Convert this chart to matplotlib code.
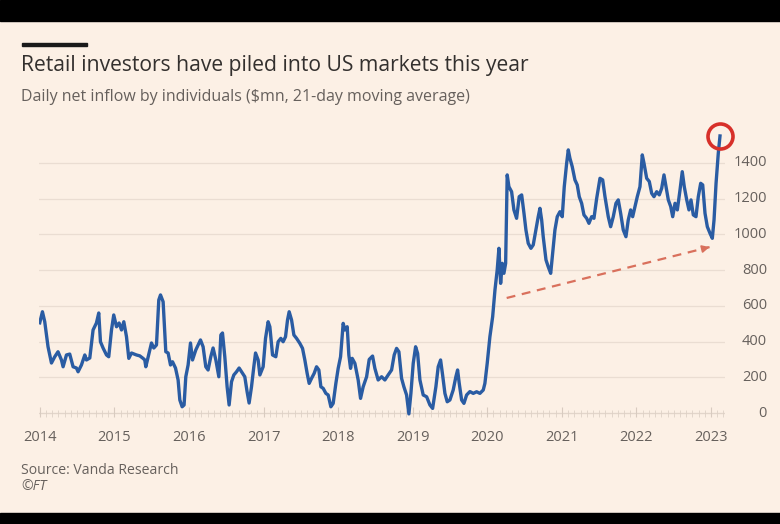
import matplotlib
matplotlib.use("Agg")
import matplotlib.pyplot as plt
from matplotlib.patches import Rectangle

# ---- data (decimal year, $mn daily net inflow, 21-day MA) ----
years = [
    2014.000, 2014.036, 2014.067, 2014.111, 2014.157, 2014.201, 2014.245, 2014.291, 2014.313, 2014.358,
    2014.402, 2014.447, 2014.492, 2014.514, 2014.559, 2014.604, 2014.626, 2014.671, 2014.715, 2014.760,
    2014.791, 2014.814, 2014.849, 2014.895, 2014.925, 2014.962, 2014.992, 2015.029, 2015.064, 2015.096,
    2015.127, 2015.163, 2015.194, 2015.230, 2015.297, 2015.341, 2015.385, 2015.408, 2015.422, 2015.466,
    2015.498, 2015.529, 2015.565, 2015.596, 2015.619, 2015.654, 2015.690, 2015.721, 2015.753, 2015.780,
    2015.820, 2015.855, 2015.878, 2015.909, 2015.935, 2015.958, 2015.989, 2016.021, 2016.048, 2016.092,
    2016.123, 2016.155, 2016.190, 2016.226, 2016.257, 2016.293, 2016.324, 2016.361, 2016.401, 2016.428,
    2016.450, 2016.481, 2016.512, 2016.539, 2016.571, 2016.602, 2016.638, 2016.673, 2016.705, 2016.749,
    2016.780, 2016.807, 2016.839, 2016.870, 2016.893, 2016.928, 2016.951, 2016.995, 2017.027, 2017.062,
    2017.085, 2017.121, 2017.165, 2017.196, 2017.232, 2017.263, 2017.295, 2017.322, 2017.344, 2017.376,
    2017.407, 2017.443, 2017.487, 2017.523, 2017.554, 2017.585, 2017.612, 2017.644, 2017.679, 2017.711,
    2017.742, 2017.769, 2017.800, 2017.836, 2017.867, 2017.903, 2017.934, 2017.970, 2018.001, 2018.033,
    2018.068, 2018.091, 2018.122, 2018.144, 2018.167, 2018.189, 2018.225, 2018.269, 2018.301, 2018.336,
    2018.382, 2018.417, 2018.462, 2018.493, 2018.537, 2018.583, 2018.627, 2018.671, 2018.717, 2018.752,
    2018.784, 2018.815, 2018.851, 2018.882, 2018.918, 2018.949, 2018.976, 2019.007, 2019.039, 2019.066,
    2019.097, 2019.141, 2019.187, 2019.231, 2019.267, 2019.311, 2019.342, 2019.374, 2019.401, 2019.432,
    2019.463, 2019.499, 2019.543, 2019.579, 2019.602, 2019.624, 2019.656, 2019.687, 2019.723, 2019.767,
    2019.812, 2019.857, 2019.901, 2019.946, 2019.968, 2019.999, 2020.035, 2020.072, 2020.103, 2020.133,
    2020.156, 2020.179, 2020.201, 2020.223, 2020.246, 2020.267, 2020.290, 2020.326, 2020.357, 2020.393,
    2020.428, 2020.461, 2020.492, 2020.518, 2020.549, 2020.585, 2020.616, 2020.652, 2020.683, 2020.706,
    2020.729, 2020.750, 2020.787, 2020.817, 2020.850, 2020.876, 2020.907, 2020.938, 2020.974, 2021.005,
    2021.032, 2021.064, 2021.086, 2021.108, 2021.139, 2021.175, 2021.206, 2021.233, 2021.265, 2021.296,
    2021.332, 2021.363, 2021.399, 2021.430, 2021.466, 2021.511, 2021.547, 2021.578, 2021.622, 2021.654,
    2021.689, 2021.725, 2021.756, 2021.788, 2021.823, 2021.859, 2021.890, 2021.922, 2021.949, 2021.980,
    2022.011, 2022.047, 2022.078, 2022.101, 2022.137, 2022.172, 2022.204, 2022.235, 2022.271, 2022.306,
    2022.338, 2022.369, 2022.396, 2022.427, 2022.459, 2022.486, 2022.517, 2022.548, 2022.584, 2022.614,
    2022.641, 2022.674, 2022.704, 2022.731, 2022.762, 2022.798, 2022.829, 2022.861, 2022.888, 2022.919,
    2022.950, 2022.986, 2023.017, 2023.040, 2023.067, 2023.097, 2023.120,
]
inflow = [
    505, 567, 511, 371, 280, 315, 343, 297, 259, 325,
    330, 259, 252, 231, 269, 325, 297, 308, 465, 504,
    560, 399, 364, 325, 315, 465, 549, 483, 504, 465,
    511, 427, 306, 336, 325, 320, 306, 297, 259, 336,
    392, 364, 381, 633, 661, 623, 343, 336, 269, 287,
    252, 185, 73, 35, 45, 203, 269, 392, 297, 353,
    381, 409, 371, 259, 241, 315, 364, 297, 203, 437,
    448, 315, 147, 45, 175, 213, 231, 252, 231, 203,
    119, 56, 147, 259, 336, 297, 213, 259, 418, 511,
    483, 325, 315, 399, 418, 399, 427, 521, 567, 521,
    437, 418, 390, 362, 297, 222, 166, 194, 222, 259,
    241, 147, 138, 110, 101, 35, 54, 166, 250, 315,
    502, 465, 483, 325, 250, 306, 278, 185, 82, 147,
    203, 300, 319, 250, 185, 203, 185, 213, 241, 325,
    362, 343, 194, 147, 101, -5, 110, 278, 371, 334,
    185, 101, 91, 45, 26, 147, 259, 297, 213, 110,
    63, 73, 129, 203, 241, 166, 73, 54, 101, 120,
    110, 119, 110, 129, 166, 278, 427, 539, 689, 801,
    922, 726, 838, 782, 838, 1333, 1267, 1239, 1137, 1090,
    1211, 1221, 1118, 1025, 950, 922, 941, 1025, 1099, 1146,
    1081, 987, 857, 819, 782, 894, 1025, 1099, 1127, 1099,
    1267, 1398, 1473, 1426, 1379, 1305, 1277, 1211, 1174, 1109,
    1090, 1062, 1099, 1090, 1200, 1314, 1305, 1211, 1099, 1043,
    1099, 1174, 1193, 1118, 1025, 987, 1081, 1137, 1099, 1156,
    1211, 1267, 1445, 1398, 1314, 1296, 1230, 1211, 1239, 1221,
    1258, 1333, 1267, 1193, 1156, 1099, 1174, 1137, 1249, 1351,
    1267, 1193, 1137, 1193, 1109, 1099, 1211, 1286, 1277, 1118,
    1043, 1006, 978, 1081, 1286, 1454, 1551,
]
year_ticks = [2014, 2015, 2016, 2017, 2018, 2019, 2020, 2021, 2022, 2023]
value_ticks = [0, 200, 400, 600, 800, 1000, 1200, 1400]
highlight = (2023.120, 1551)
trend_start = (2020.26, 644)
trend_end = (2022.98, 929)

title = "Retail investors have piled into US markets this year"
subtitle = "Daily net inflow by individuals ($mn, 21-day moving average)"
source = "Source: Vanda Research"
credit = "\u00a9FT"

# ---- style ----
BG = "#FCF0E5"
LINE = "#2A5CA3"
GRID = "#EADDD2"
GREY = "#66605C"
DARK = "#33302E"
RED = "#D7302A"
ARROW = "#D9705C"
plt.rcParams["font.family"] = ["Open Sans", "DejaVu Sans"]

W, H = 780, 524
fig = plt.figure(figsize=(W / 100, H / 100), dpi=100, facecolor=BG)

def px(x0, y0, x1, y1):
    return [x0 / W, 1 - y1 / H, (x1 - x0) / W, (y1 - y0) / H]

AX_L, AX_R = 39, 725
ax = fig.add_axes(px(AX_L, 127.2, AX_R, 416.6))
ax.set_facecolor(BG)
ax.set_xlim(2013.99, 2023.187)
ax.set_ylim(-20, 1600)

for v in value_ticks:
    ax.axhline(v, color=GRID, lw=0.9, zorder=0)

ax.plot(years, inflow, color=LINE, lw=2.4, solid_joinstyle="round", zorder=3)

# trend arrow
ax.plot([trend_start[0], trend_end[0]], [trend_start[1], trend_end[1]],
        color=ARROW, lw=1.6, ls=(0, (4, 3)), zorder=4)
ax.annotate("", xy=trend_end, xytext=(trend_end[0] - 0.08, trend_end[1] - 8.4),
            arrowprops=dict(arrowstyle="-|>", color=ARROW, lw=1.2, mutation_scale=11,
                            shrinkA=0, shrinkB=0), zorder=4)

# highlight circle
ax.plot([highlight[0]], [highlight[1]], marker="o", ms=18, mfc="none",
        mec=RED, mew=2.6, zorder=5, clip_on=False)

for s in ax.spines.values():
    s.set_visible(False)

ax.set_xticks(year_ticks)
ax.set_xticklabels([str(y) for y in year_ticks])
ax.set_xticks([y + m / 12 for y in range(2014, 2024) for m in range(12)
               if 2013.99 <= y + m / 12 <= 2023.187], minor=True)
ax.tick_params(axis="x", which="major", length=7, width=0.8, color="#D8CBC0",
               labelsize=10.5, labelcolor=GREY, pad=10, direction="in")
ax.tick_params(axis="x", which="minor", length=5, width=0.6, color="#DED1C6",
               direction="in")
ax.axhline(0, color="#E2D5CA", lw=0.8, zorder=1)

# y tick labels on the right, right-aligned
ax.set_yticks(value_ticks)
ax.tick_params(axis="y", length=0, labelleft=False, labelright=False)
ytrans = ax.get_yaxis_transform()
for v in value_ticks:
    ax.text(1 + 42 / (AX_R - AX_L), v, str(v), transform=ytrans, ha="right",
            va="center", fontsize=10.5, color=GREY, clip_on=False)

# texts
fig.patches.append(Rectangle((22 / W, 1 - 46 / H), 65 / W, 3 / H,
                             transform=fig.transFigure, color="#1A1A1A"))
fig.text(21 / W, 1 - 66 / H, title, fontsize=15.2, color=DARK, va="center")
fig.text(21 / W, 1 - 97 / H, subtitle, fontsize=11.5, color=GREY, va="center")
fig.text(21 / W, 1 - 471 / H, source, fontsize=10.1, color=GREY, va="center")
fig.text(21 / W, 1 - 487 / H, credit, fontsize=10.1, color=GREY, va="center",
         style="italic")

# screenshot black bands
fig.patches.append(Rectangle((0, 1 - 21 / H), 1, 21 / H, transform=fig.transFigure,
                             color="black", zorder=10))
fig.patches.append(Rectangle((0, 0), 1, 11 / H, transform=fig.transFigure,
                             color="black", zorder=10))

fig.savefig("out.png", dpi=100, facecolor=BG)
